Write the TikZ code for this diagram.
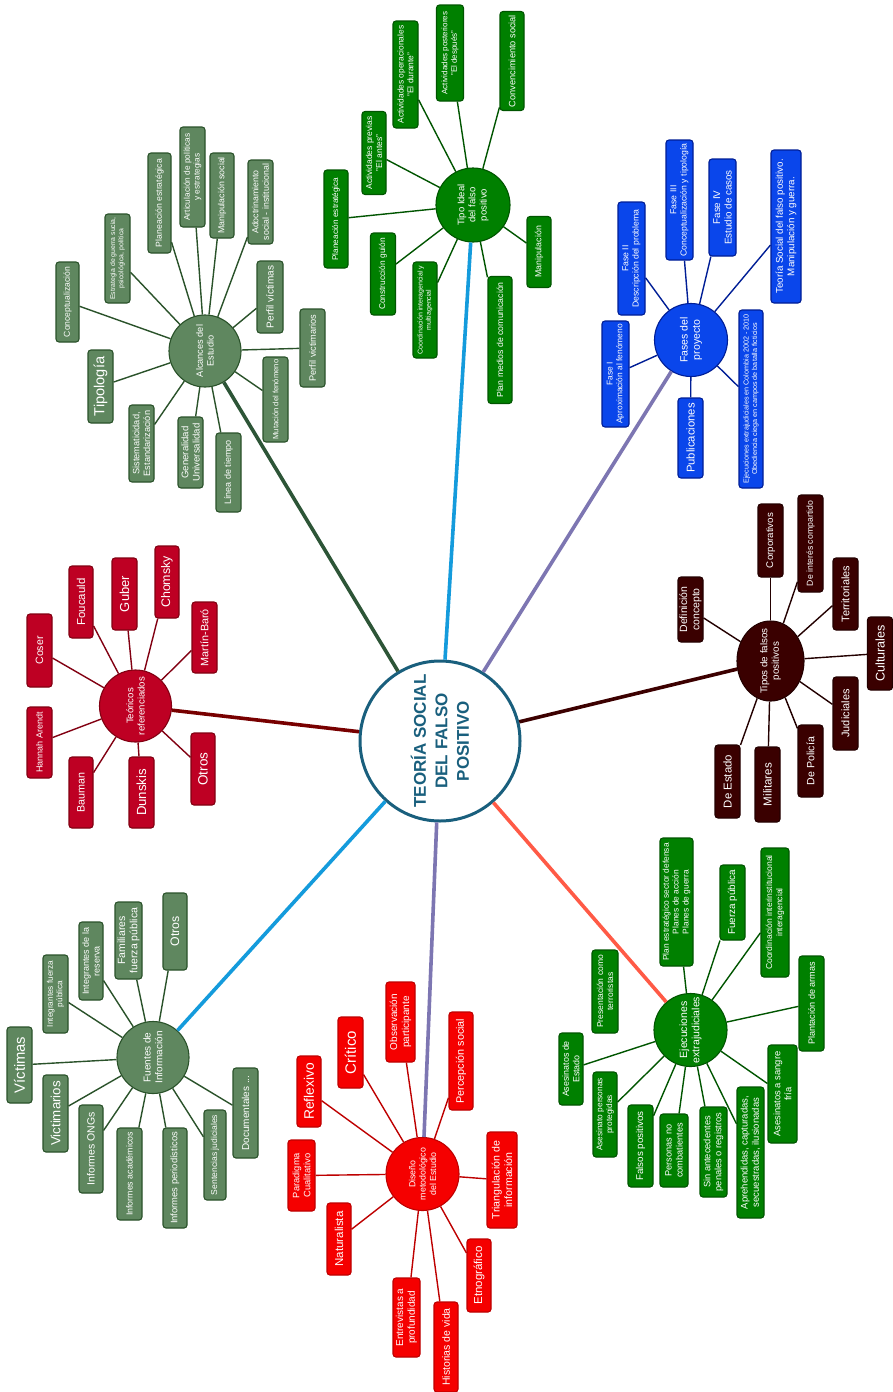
\documentclass[tikz,border=0pt]{standalone}
\usepackage{fontspec}
\setmainfont{Liberation Sans}
\usetikzlibrary{shapes.geometric}
\definecolor{cG}{RGB}{0,128,0}
\definecolor{cGd}{RGB}{0,85,0}
\definecolor{cM}{RGB}{95,135,95}
\definecolor{cMd}{RGB}{42,82,42}
\definecolor{cB}{RGB}{10,70,235}
\definecolor{cBd}{RGB}{0,30,150}
\definecolor{cK}{RGB}{58,0,0}
\definecolor{cKd}{RGB}{35,0,0}
\definecolor{cC}{RGB}{190,0,35}
\definecolor{cCd}{RGB}{130,0,18}
\definecolor{cR}{RGB}{245,0,0}
\definecolor{cRd}{RGB}{190,0,0}
\definecolor{cT}{RGB}{25,95,125}
\definecolor{lAlc}{RGB}{45,85,55}
\definecolor{lBlue}{RGB}{20,155,220}
\definecolor{lPur}{RGB}{125,118,178}
\definecolor{lTip}{RGB}{60,0,0}
\definecolor{lTeo}{RGB}{120,0,0}
\definecolor{lEje}{RGB}{255,90,70}
\begin{document}
\begin{tikzpicture}[x=1pt,y=-1pt,
  fs/.style={font=\fontsize{#1}{#1}\selectfont\setlength{\baselineskip}{1.18\baselineskip}},
  bx/.style={rectangle, rounded corners=3pt, line width=1.1pt, rotate=90, inner sep=1pt, align=center, text=white},
  boxG/.style={bx, fill=cG, draw=cGd},
  boxM/.style={bx, fill=cM, draw=cMd},
  boxB/.style={bx, fill=cB, draw=cBd},
  boxK/.style={bx, fill=cK, draw=cKd},
  boxC/.style={bx, fill=cC, draw=cCd},
  boxR/.style={bx, fill=cR, draw=cRd},
  hub/.style={circle, line width=1.1pt, inner sep=0pt, rotate=90, align=center, text=white},
  eG/.style={draw=cGd, line width=1.4pt},
  eM/.style={draw=cMd, line width=1.4pt},
  eB/.style={draw=cBd, line width=1.4pt},
  eK/.style={draw=cKd, line width=1.4pt},
  eC/.style={draw=cCd, line width=1.4pt},
  eR/.style={draw=cRd, line width=1.4pt},
  mainline/.style={line width=3.6pt}]
\useasboundingbox[fill=white] (0,0) rectangle (892,1392);

% ---------- center
\node[circle, draw=cT, line width=3pt, fill=white, minimum size=160, inner sep=0pt, rotate=90, text=cT, align=center, font=\bfseries\fontsize{17}{21.5}\selectfont] (C) at (440,741) {TEORÍA SOCIAL\\DEL FALSO\\POSITIVO};

% ---------- Tipo ideal
\node[hub, fill=cG, draw=cGd, minimum size=74, fs=9.5] (TI) at (473,205) {Tipo Ideal\\del falso\\positivo};
\node[boxG, fs=8.4, minimum width=107, minimum height=25] (t1) at (405.5,74.5) {Actividades operacionales\\"El durante"};
\node[boxG, fs=8, minimum width=96, minimum height=27] (t2) at (450,53) {Actividades posteriores\\"El después"};
\node[boxG, fs=9.2, minimum width=99, minimum height=24] (t3) at (512,61) {Convencimiento social};
\node[boxG, fs=8.5, minimum width=83, minimum height=24] (t4) at (374,153) {Actividades previas\\"El antes"};
\node[boxG, fs=8.2, minimum width=98, minimum height=24] (t5) at (336,219) {Planeación estratégica};
\node[boxG, fs=8.4, minimum width=82, minimum height=25] (t6) at (383,274) {Construcción guión};
\node[boxG, fs=7, minimum width=96, minimum height=24] (t7) at (425,310) {Coordinación interagencial y\\multiagencial};
\node[boxG, fs=8.7, minimum width=127, minimum height=24] (t8) at (500,340) {Plan medios de comunicación};
\node[boxG, fs=8.8, minimum width=71, minimum height=24] (t9) at (539,252) {Manipulación};
\foreach \n in {t1,t2,t3,t4,t5,t6,t7,t8,t9} \draw[eG] (TI) -- (\n);

% ---------- Fases
\node[hub, fill=cB, draw=cBd, minimum size=73, fs=10.5] (FP) at (691,340) {Fases del\\proyecto};
\node[boxB, fs=8.4, minimum width=106, minimum height=27] (f1) at (615.5,374) {Fase I\\Aproximación al fenómeno};
\node[boxB, fs=8.7, minimum width=113, minimum height=27] (f2) at (631.5,258.5) {Fase II\\Descripción del problema};
\node[boxB, fs=8.7, minimum width=120, minimum height=27] (f3) at (679.5,200) {Fase III\\Conceptualización y tipología};
\node[boxB, fs=9.8, minimum width=97, minimum height=27] (f4) at (722.5,207.5) {Fase IV\\Estudio de casos};
\node[boxB, fs=9.8, minimum width=153, minimum height=30] (f5) at (786,226.5) {Teoría Social del falso positivo.\\Manipulación y guerra.};
\node[boxB, fs=7.2, minimum width=178, minimum height=24] (f6) at (751,399) {Ejecuciones extrajudiciales en Colombia 2002 - 2010\\Obediencia ciega en campos de batalla ficticios};
\node[boxB, fs=11.3, minimum width=80, minimum height=25] (f7) at (690.5,438) {Publicaciones};
\foreach \n in {f1,f2,f3,f4,f5,f6,f7} \draw[eB] (FP) -- (\n);

% ---------- Alcances
\node[hub, fill=cM, draw=cMd, minimum size=72, fs=9.2] (AE) at (205,351) {Alcances del\\Estudio};
\node[boxM, fs=8.6, minimum width=80, minimum height=23] (a1) at (67.5,302) {Conceptualización};
\node[boxM, fs=6.9, minimum width=89, minimum height=25] (a2) at (117.5,258.5) {Estrategia de guerra sucia,\\psicológica, política};
\node[boxM, fs=8.7, minimum width=100, minimum height=23] (a3) at (159.5,203) {Planeación estratégica};
\node[boxM, fs=8.3, minimum width=100, minimum height=25] (a4) at (192.5,177) {Articulación de políticas\\y estrategias};
\node[boxM, fs=8.8, minimum width=85, minimum height=24] (a5) at (222,195.5) {Manipulación social};
\node[boxM, fs=8.8, minimum width=84, minimum height=25] (a6) at (260.5,202) {Adoctrinamiento\\social - institucional};
\node[boxM, fs=10, minimum width=72, minimum height=26] (a7) at (270,297) {Perfil víctimas};
\node[boxM, fs=9.2, minimum width=78, minimum height=25] (a8) at (312.5,348) {Perfil victimarios};
\node[boxM, fs=7.7, minimum width=85, minimum height=25] (a9) at (275.5,399.5) {Mutación del fenómeno};
\node[boxM, fs=9, minimum width=79, minimum height=25] (a10) at (228.5,472.5) {Línea de tiempo};
\node[boxM, fs=9.6, minimum width=71, minimum height=25] (a11) at (190.5,452.5) {Generalidad\\Universalidad};
\node[boxM, fs=9.2, minimum width=77, minimum height=25] (a12) at (141.5,443.5) {Sistematicidad,\\Estandarización};
\node[boxM, fs=14.6, minimum width=73, minimum height=25] (a13) at (100.5,386.5) {Tipología};
\foreach \n in {a1,a2,a3,a4,a5,a6,a7,a8,a9,a10,a11,a12,a13} \draw[eM] (AE) -- (\n);

% ---------- Tipos de falsos positivos
\node[ellipse, fill=cK, draw=cKd, line width=1.1pt, minimum width=67, minimum height=80, inner sep=0pt] (TP) at (770.5,661) {};
\node[rotate=90, align=center, text=white, fs=9.8, inner sep=0pt] (TPt) at (TP.center) {Tipos de falsos\\positivos};
\node[boxK, fs=10.5, minimum width=65, minimum height=25] (k1) at (690.5,609.5) {Definición\\concepto};
\node[boxK, fs=9.7, minimum width=73, minimum height=25] (k2) at (770.5,540.5) {Corporativos};
\node[boxK, fs=8.7, minimum width=97, minimum height=25] (k3) at (810.5,543.5) {De interés compartido};
\node[boxK, fs=11, minimum width=72, minimum height=25] (k4) at (845.5,594) {Territoriales};
\node[boxK, fs=12.6, minimum width=73, minimum height=25] (k5) at (880,653.5) {Culturales};
\node[boxK, fs=11, minimum width=73, minimum height=25] (k6) at (845.5,713.5) {Judiciales};
\node[boxK, fs=10.6, minimum width=72, minimum height=25] (k7) at (810.5,761) {De Policía};
\node[boxK, fs=11.6, minimum width=75, minimum height=25] (k8) at (767.5,784.5) {Militares};
\node[boxK, fs=11.4, minimum width=73, minimum height=25] (k9) at (727.5,781.5) {De Estado};
\foreach \n in {k1,k2,k3,k4,k5,k6,k7,k8,k9} \draw[eK] (TP) -- (\n);

% ---------- Teoricos
\node[hub, fill=cC, draw=cCd, minimum size=72, fs=9.6] (TR) at (135.5,706) {Teóricos\\referenciados};
\node[boxC, fs=10.6, minimum width=73, minimum height=25] (c1) at (39.5,650.5) {Coser};
\node[boxC, fs=11.4, minimum width=72, minimum height=24] (c2) at (81,602) {Foucauld};
\node[boxC, fs=13, minimum width=72, minimum height=25] (c3) at (124.5,594) {Guber};
\node[boxC, fs=12.4, minimum width=72, minimum height=24] (c4) at (167,582) {Chomsky};
\node[boxC, fs=10.8, minimum width=71, minimum height=25] (c5) at (204.5,637.5) {Martín-Baró};
\node[boxC, fs=13.5, minimum width=72, minimum height=24] (c6) at (203,769) {Otros};
\node[boxC, fs=13.2, minimum width=71, minimum height=25] (c7) at (141.5,792.5) {Dunskis};
\node[boxC, fs=10.7, minimum width=71, minimum height=24] (c8) at (81,792.5) {Bauman};
\node[boxC, fs=9, minimum width=71, minimum height=25] (c9) at (39.5,742.5) {Hannah Arendt};
\foreach \n in {c1,c2,c3,c4,c5,c6,c7,c8,c9} \draw[eC] (TR) -- (\n);

% ---------- Fuentes
\node[hub, fill=cM, draw=cMd, minimum size=72, fs=10] (FI) at (153,1057.5) {Fuentes de\\Información};
\node[boxM, fs=14.8, minimum width=76, minimum height=25] (s1) at (19.5,1065) {Víctimas};
\node[boxM, fs=8.2, minimum width=78, minimum height=25] (s2) at (55.5,994) {Integrantes fuerza\\pública};
\node[boxM, fs=9, minimum width=78, minimum height=24] (s3) at (91,961) {Integrantes de la\\reserva};
\node[boxM, fs=10.5, minimum width=77, minimum height=27] (s4) at (128.5,940.5) {Familiares\\fuerza pública};
\node[boxM, fs=12.3, minimum width=77, minimum height=24] (s5) at (175,931.5) {Otros};
\node[boxM, fs=13.3, minimum width=77, minimum height=25] (s6) at (55.5,1113.5) {Victimarios};
\node[boxM, fs=10.5, minimum width=88, minimum height=24] (s7) at (91,1149) {Informes ONGs};
\node[boxM, fs=8.8, minimum width=92, minimum height=25] (s8) at (129.5,1174) {Informes académicos};
\node[boxM, fs=9.4, minimum width=100, minimum height=24] (s9) at (175,1178) {Informes periodísticos};
\node[boxM, fs=8.6, minimum width=90, minimum height=22] (s10) at (215,1155) {Sentencias judiciales};
\node[boxM, fs=10, minimum width=90, minimum height=25] (s11) at (245.5,1113) {Documentales ...};
\foreach \n in {s1,s2,s3,s4,s5,s6,s7,s8,s9,s10,s11} \draw[eM] (FI) -- (\n);

% ---------- Diseno
\node[hub, fill=cR, draw=cRd, minimum size=73, fs=8.8] (DM) at (422.5,1174) {Diseño\\metodológico\\del Estudio};
\node[boxR, fs=10, minimum width=80, minimum height=29] (d1) at (400.5,1022) {Observación\\participante};
\node[boxR, fs=15, minimum width=71, minimum height=25] (d2) at (350.5,1052.5) {Crítico};
\node[boxR, fs=13.8, minimum width=71, minimum height=24] (d3) at (309,1091.5) {Reflexivo};
\node[boxR, fs=9.3, minimum width=71, minimum height=27] (d4) at (301.5,1175.5) {Paradigma\\Cualitativo};
\node[boxR, fs=11.5, minimum width=72, minimum height=24] (d5) at (339,1239) {Naturalista};
\node[boxR, fs=10, minimum width=79, minimum height=27] (d6) at (406.5,1317.5) {Entrevistas a\\profundidad};
\node[boxR, fs=10.5, minimum width=90, minimum height=24] (d7) at (446,1347) {Historias de vida};
\node[boxR, fs=11.5, minimum width=73, minimum height=24] (d8) at (479,1275.5) {Etnográfico};
\node[boxR, fs=10.6, minimum width=96, minimum height=30] (d9) at (502,1180) {Triangulación de\\información};
\node[boxR, fs=10.8, minimum width=98, minimum height=24] (d10) at (461,1061) {Percepción social};
\foreach \n in {d1,d2,d3,d4,d5,d6,d7,d8,d9,d10} \draw[eR] (DM) -- (\n);

% ---------- Ejecuciones
\node[hub, fill=cG, draw=cGd, minimum size=73, fs=10.5] (EJ) at (690.5,1030) {Ejecuciones\\extrajudiciales};
\node[boxG, fs=8.4, minimum width=128, minimum height=33] (e1) at (676.5,902) {Plan estratégico sector defensa\\Planes de acción\\Planes de guerra};
\node[boxG, fs=9.9, minimum width=75, minimum height=25] (e2) at (732.5,902.5) {Fuerza pública};
\node[boxG, fs=8.6, minimum width=129, minimum height=28] (e3) at (775,912.5) {Coordinación interinstitucional\\interagencial};
\node[boxG, fs=9.1, minimum width=95, minimum height=25] (e4) at (811.5,1003.5) {Plantación de armas};
\node[boxG, fs=9.4, minimum width=98, minimum height=29] (e5) at (782.5,1094) {Asesinatos a sangre\\fría};
\node[boxG, fs=9.5, minimum width=131, minimum height=27] (e6) at (750.5,1152.5) {Aprehendidas, capturadas,\\secuestradas, ilusionadas};
\node[boxG, fs=9.3, minimum width=90, minimum height=27] (e7) at (713.5,1152) {Sin antecedentes\\penales o registros};
\node[boxG, fs=9.2, minimum width=73, minimum height=28] (e8) at (674,1150.5) {Personas no\\combatientes};
\node[boxG, fs=9.8, minimum width=82, minimum height=25] (e9) at (640.5,1146) {Falsos positivos};
\node[boxG, fs=8.3, minimum width=85, minimum height=24] (e10) at (605,1114.5) {Asesinato personas\\protegidas};
\node[boxG, fs=8.9, minimum width=72, minimum height=24] (e11) at (571,1069) {Asesinatos de\\Estado};
\node[boxG, fs=8.5, minimum width=83, minimum height=26] (e12) at (605,991.5) {Presentación como\\terroristas};
\foreach \n in {e1,e2,e3,e4,e5,e6,e7,e8,e9,e10,e11} \draw[eG] (EJ) -- (\n);

% ---------- main connectors
\draw[mainline, lAlc] (C) -- (AE);
\draw[mainline, lBlue] (C) -- (TI);
\draw[mainline, lPur] (C) -- (FP);
\draw[mainline, lTip] (C) -- (TP);
\draw[mainline, lTeo] (C) -- (TR);
\draw[mainline, lBlue] (C) -- (FI);
\draw[mainline, lPur] (C) -- (DM);
\draw[mainline, lEje] (C) -- (EJ);
\end{tikzpicture}
\end{document}
